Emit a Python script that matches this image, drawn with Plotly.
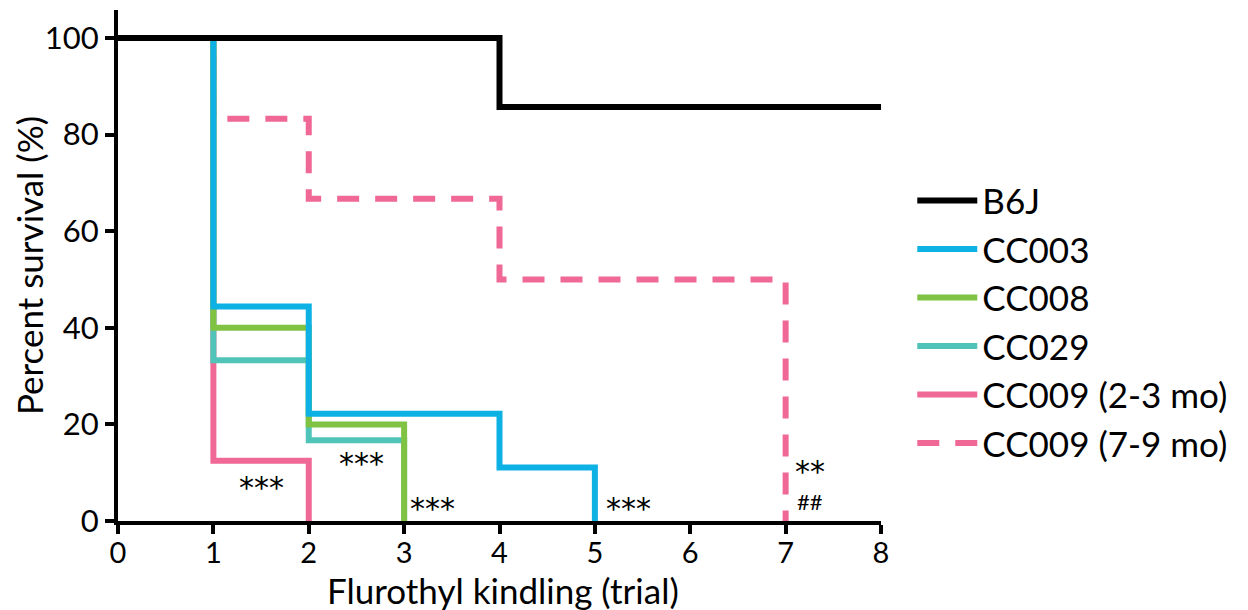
import plotly.graph_objects as go

# Data (Kaplan-Meier step points)
b6j_x = [0, 4, 8]
b6j_y = [100, 85.7, 85.7]
cc003_x = [0, 1, 2, 4, 5]
cc003_y = [100, 44.4, 22.2, 11.1, 0]
cc008_x = [0, 1, 2, 3]
cc008_y = [100, 40, 20, 0]
cc029_x = [0, 1, 2, 3]
cc029_y = [100, 33.3, 16.7, 0]
cc009y_x = [0, 1, 2]
cc009y_y = [100, 12.5, 0]
cc009o_x = [0, 1, 2, 4, 7]
cc009o_y = [100, 83.3, 66.7, 50, 0]

names = ["B6J", "CC003", "CC008", "CC029", "CC009 (2-3 mo)", "CC009 (7-9 mo)"]
colors = ["#000000", "#0DB1E3", "#80C342", "#50C4B8", "#F06896", "#F06896"]

ann_text = ["***", "***", "***", "***", "**", "##"]
ann_x = [1.5, 2.55, 3.3, 5.35, 7.26, 7.26]
ann_y = [7, 12, 2.5, 2.5, 10.2, 4.0]

series = [
    (b6j_x, b6j_y, 0, "solid"),
    (cc003_x, cc003_y, 1, "solid"),
    (cc008_x, cc008_y, 2, "solid"),
    (cc029_x, cc029_y, 3, "solid"),
    (cc009y_x, cc009y_y, 4, "solid"),
    (cc009o_x, cc009o_y, 5, "22px,16px"),
]

fig = go.Figure()
draw_order = [5, 4, 3, 2, 1, 0]
for i in draw_order:
    x, y, ci, dash = series[i]
    fig.add_trace(go.Scatter(
        x=x, y=y, mode="lines", name=names[ci],
        line=dict(color=colors[ci], width=6, shape="hv", dash=dash),
        legendrank=ci + 1, cliponaxis=False,
    ))

for t, xx, yy in zip(ann_text, ann_x, ann_y):
    fig.add_annotation(x=xx, y=yy, text=t, showarrow=False,
                       font=dict(size=30 if t != "##" else 22, color="black",
                                 family="DejaVu Sans" if t != "##" else "Lato"),
                       xanchor="center", yanchor="middle")

# x-axis title as paper annotation (placed just below tick labels)
fig.add_annotation(x=0.505, y=0, xref="paper", yref="paper", yshift=-69,
                   text="Flurothyl kindling (trial)", showarrow=False,
                   font=dict(size=35, family="Lato", color="black"),
                   xanchor="center", yanchor="middle")

fig.update_layout(
    width=1240, height=602,
    paper_bgcolor="white", plot_bgcolor="white",
    margin=dict(l=110, r=367, t=2, b=89),
    font=dict(family="Lato", size=30, color="black"),
    showlegend=True,
    legend=dict(x=1.041, y=0.39, xanchor="left", yanchor="middle",
                font=dict(size=35), tracegroupgap=0, itemwidth=60,
                bgcolor="rgba(0,0,0,0)"),
    xaxis=dict(range=[0, 8], tickvals=list(range(0, 9)), showgrid=False, zeroline=False,
               showline=True, linecolor="black", linewidth=4, ticks="outside",
               ticklen=9, tickwidth=4, tickcolor="black", tickfont=dict(size=29),
               ticklabelstandoff=-6,
               layer="above traces", automargin=False),
    yaxis=dict(range=[0, 105.8], tickvals=[0, 20, 40, 60, 80, 100], showgrid=False, zeroline=False,
               showline=True, linecolor="black", linewidth=4, ticks="outside",
               ticklen=9, tickwidth=4, tickcolor="black", tickfont=dict(size=31),
               title=dict(text="Percent survival (%)", font=dict(size=35), standoff=6),
               layer="above traces", automargin=False),
)

fig.write_html("out.html")
